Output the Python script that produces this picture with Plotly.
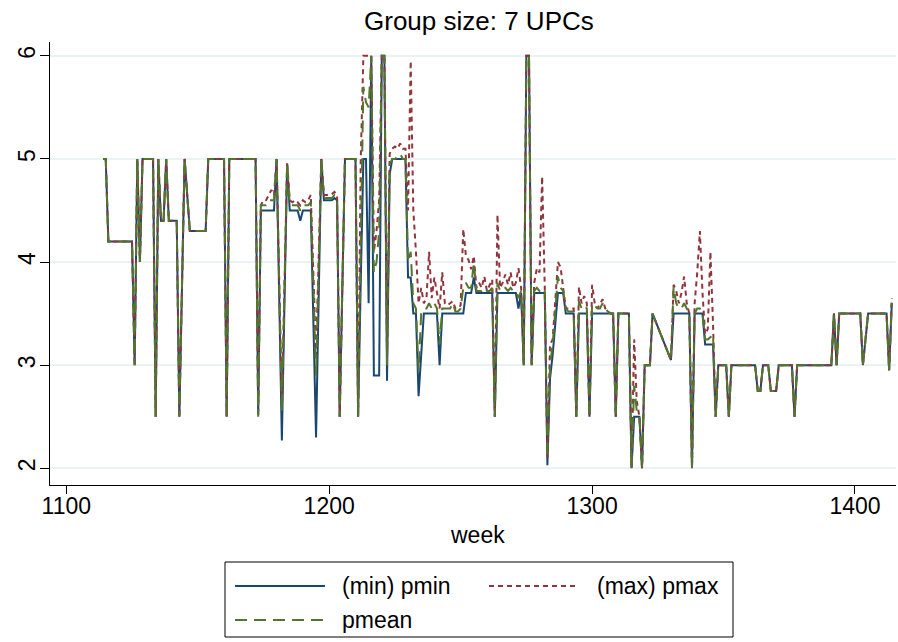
import plotly.graph_objects as go

# ---- data ----
weeks = [1114, 1115, 1116, 1125, 1126, 1127, 1128, 1129, 1133, 1134, 1135, 1136, 1137, 1138, 1139, 1142, 1143, 1145, 1147, 1153,
         1154, 1160, 1161, 1162, 1172, 1173, 1174, 1175, 1176, 1177, 1178, 1179, 1180, 1182, 1184, 1185, 1186, 1187, 1188, 1189,
         1190, 1191, 1192, 1193, 1195, 1197, 1198, 1199, 1200, 1201, 1202, 1203, 1204, 1206, 1210, 1211, 1212, 1213, 1214, 1215,
         1216, 1217, 1218, 1219, 1220, 1221, 1222, 1223, 1224, 1225, 1226, 1227, 1228, 1229, 1230, 1231, 1232, 1233, 1234, 1235,
         1236, 1237, 1238, 1239, 1240, 1241, 1242, 1243, 1244, 1245, 1246, 1247, 1248, 1249, 1250, 1251, 1252, 1253, 1254, 1255,
         1256, 1257, 1258, 1259, 1260, 1261, 1262, 1263, 1264, 1265, 1266, 1267, 1268, 1269, 1270, 1271, 1272, 1273, 1274, 1275,
         1276, 1277, 1278, 1279, 1280, 1281, 1282, 1283, 1284, 1285, 1286, 1287, 1288, 1289, 1290, 1291, 1292, 1293, 1294, 1295,
         1296, 1297, 1298, 1299, 1300, 1301, 1302, 1303, 1304, 1305, 1306, 1307, 1308, 1309, 1310, 1314, 1315, 1316, 1317, 1318,
         1319, 1320, 1322, 1323, 1330, 1331, 1332, 1333, 1334, 1335, 1336, 1337, 1338, 1339, 1340, 1341, 1342, 1343, 1344, 1345,
         1346, 1347, 1348, 1351, 1352, 1353, 1362, 1363, 1364, 1365, 1367, 1368, 1370, 1371, 1376, 1377, 1378, 1390, 1391, 1392,
         1393, 1394, 1402, 1403, 1405, 1412, 1413, 1414]

pmin = [5.0, 5.0, 4.2, 4.2, 3.0, 5.0, 4.0, 5.0, 5.0, 2.5, 5.0, 4.4, 4.4, 5.0, 4.4, 4.4, 2.5, 5.0, 4.3, 4.3,
        5.0, 5.0, 2.5, 5.0, 5.0, 2.52, 4.5, 4.5, 4.5, 4.5, 4.5, 4.5, 5.0, 2.27, 4.95, 4.5, 4.5, 4.5, 4.5, 4.4,
        4.5, 4.5, 4.5, 4.5, 2.3, 5.0, 4.6, 4.6, 4.6, 4.6, 4.62, 4.6, 2.5, 5.0, 5.0, 2.5, 3.8, 5.0, 5.0, 3.6,
        6.0, 2.9, 2.9, 2.9, 6.0, 6.0, 2.85, 4.85, 5.0, 5.0, 5.0, 5.0, 5.0, 5.0, 3.85, 3.85, 3.5, 3.5, 2.7, 3.1,
        3.5, 3.5, 3.5, 3.5, 3.5, 3.5, 3.0, 3.5, 3.5, 3.5, 3.5, 3.5, 3.5, 3.5, 3.5, 3.5, 3.7, 3.7, 3.7, 3.85,
        3.7, 3.7, 3.7, 3.7, 3.7, 3.7, 3.7, 2.5, 3.7, 3.7, 3.7, 3.7, 3.7, 3.7, 3.7, 3.7, 3.55, 3.7, 3.0, 6.0,
        6.0, 3.0, 3.7, 3.7, 3.7, 3.7, 3.7, 2.03, 2.87, 3.1, 3.45, 3.7, 3.7, 3.7, 3.5, 3.5, 3.5, 3.5, 2.5, 3.5,
        3.5, 3.5, 3.5, 2.5, 3.5, 3.5, 3.5, 3.5, 3.5, 3.5, 3.5, 3.5, 3.5, 2.5, 3.5, 3.5, 2.0, 2.5, 2.5, 2.5,
        2.0, 3.0, 3.0, 3.5, 3.05, 3.5, 3.5, 3.5, 3.5, 3.5, 3.5, 3.5, 2.0, 3.5, 3.5, 3.5, 3.5, 3.2, 3.2, 3.2,
        3.2, 2.5, 3.0, 3.0, 2.5, 3.0, 3.0, 2.75, 2.75, 3.0, 3.0, 2.75, 2.75, 3.0, 3.0, 2.5, 3.0, 3.0, 3.0, 3.5,
        3.0, 3.5, 3.5, 3.0, 3.5, 3.5, 2.95, 3.6]

pmax = [5.0, 5.0, 4.2, 4.2, 3.0, 5.0, 4.0, 5.0, 5.0, 2.5, 5.0, 4.4, 4.4, 5.0, 4.4, 4.4, 2.5, 5.0, 4.3, 4.3,
        5.0, 5.0, 2.5, 5.0, 5.0, 2.55, 4.55, 4.6, 4.6, 4.65, 4.7, 4.65, 5.0, 2.6, 4.97, 4.6, 4.58, 4.6, 4.58, 4.55,
        4.6, 4.58, 4.6, 4.65, 3.1, 5.0, 4.65, 4.65, 4.65, 4.66, 4.68, 4.65, 2.5, 5.0, 5.0, 2.5, 5.0, 6.0, 6.0, 6.0,
        6.0, 4.1, 4.3, 4.6, 6.0, 6.0, 3.1, 5.05, 5.1, 5.12, 5.1, 5.15, 5.1, 5.1, 4.5, 5.95, 4.5, 4.1, 3.6, 3.75,
        3.6, 3.65, 4.1, 3.65, 3.85, 3.7, 3.55, 3.9, 3.6, 3.58, 3.6, 3.62, 3.55, 3.55, 3.58, 4.32, 4.06, 4.02, 3.93, 4.06,
        3.75, 3.8, 3.75, 3.86, 3.72, 3.78, 3.83, 2.5, 4.46, 3.75, 3.8, 3.88, 3.78, 3.9, 3.75, 3.8, 3.94, 3.75, 3.0, 6.0,
        6.0, 3.0, 3.8, 3.94, 3.9, 4.83, 3.75, 2.1, 3.2, 3.25, 3.63, 4.0, 3.95, 3.75, 3.55, 3.55, 3.55, 3.55, 2.5, 3.76,
        3.6, 3.67, 3.6, 2.5, 3.78, 3.6, 3.55, 3.6, 3.64, 3.55, 3.52, 3.5, 3.5, 2.5, 3.5, 3.5, 2.0, 3.25, 2.65, 2.5,
        2.0, 3.0, 3.0, 3.5, 3.05, 3.78, 3.72, 3.6, 3.7, 3.86, 3.6, 3.5, 2.0, 3.6, 3.9, 4.3, 3.7, 3.3, 3.35, 4.1,
        3.4, 2.5, 3.0, 3.0, 2.5, 3.0, 3.0, 2.75, 2.75, 3.0, 3.0, 2.75, 2.75, 3.0, 3.0, 2.5, 3.0, 3.0, 3.0, 3.5,
        3.0, 3.5, 3.5, 3.0, 3.5, 3.5, 2.95, 3.65]

pmean = [5.0, 5.0, 4.2, 4.2, 3.0, 5.0, 4.0, 5.0, 5.0, 2.5, 5.0, 4.4, 4.4, 5.0, 4.4, 4.4, 2.5, 5.0, 4.3, 4.3,
         5.0, 5.0, 2.5, 5.0, 5.0, 2.5, 4.55, 4.55, 4.55, 4.6, 4.6, 4.6, 5.0, 2.55, 4.95, 4.55, 4.55, 4.55, 4.55, 4.5,
         4.55, 4.55, 4.55, 4.58, 2.9, 5.0, 4.62, 4.62, 4.62, 4.62, 4.65, 4.62, 2.5, 5.0, 5.0, 2.5, 4.2, 5.7, 5.55, 5.5,
         6.0, 3.9, 4.0, 4.3, 6.0, 6.0, 3.0, 4.95, 5.0, 5.0, 5.02, 5.05, 5.0, 5.0, 4.0, 4.1, 3.6, 3.55, 2.95, 3.5,
         3.55, 3.55, 3.6, 3.55, 3.6, 3.55, 3.2, 3.55, 3.55, 3.55, 3.55, 3.6, 3.52, 3.52, 3.55, 3.75, 3.8, 3.75, 3.75, 4.0,
         3.72, 3.72, 3.72, 3.75, 3.72, 3.72, 3.75, 2.5, 3.8, 3.72, 3.75, 3.75, 3.72, 3.75, 3.72, 3.72, 3.65, 3.72, 3.0, 6.0,
         6.0, 3.0, 3.72, 3.75, 3.72, 3.75, 3.72, 2.1, 3.0, 3.2, 3.5, 3.86, 3.75, 3.72, 3.55, 3.52, 3.52, 3.52, 2.5, 3.62,
         3.55, 3.58, 3.55, 2.5, 3.6, 3.58, 3.55, 3.55, 3.6, 3.55, 3.52, 3.5, 3.5, 2.5, 3.5, 3.5, 2.0, 2.8, 2.55, 2.5,
         2.0, 3.0, 3.0, 3.5, 3.05, 3.76, 3.6, 3.55, 3.55, 3.6, 3.55, 3.5, 2.0, 3.5, 3.55, 3.55, 3.5, 3.25, 3.25, 3.27,
         3.3, 2.5, 3.0, 3.0, 2.5, 3.0, 3.0, 2.75, 2.75, 3.0, 3.0, 2.75, 2.75, 3.0, 3.0, 2.5, 3.0, 3.0, 3.0, 3.5,
         3.0, 3.5, 3.5, 3.0, 3.5, 3.5, 2.95, 3.6]

y_ticks = [2, 3, 4, 5, 6]
x_ticks = [1100, 1200, 1300, 1400]
title_text = "Group size: 7 UPCs"
x_title = "week"
legend_labels = ["(min) pmin", "(max) pmax", "pmean"]

# ---- styles ----
NAVY = "#1a476f"
MAROON = "#90353b"
GREEN = "#55752f"
FONT = "Liberation Sans, Arial, sans-serif"

fig = go.Figure()
fig.add_trace(go.Scatter(x=weeks, y=pmin, mode="lines", name=legend_labels[0],
                         line=dict(color=NAVY, width=2)))
fig.add_trace(go.Scatter(x=weeks, y=pmax, mode="lines", name=legend_labels[1],
                         line=dict(color=MAROON, width=2, dash="5px,4px")))
fig.add_trace(go.Scatter(x=weeks, y=pmean, mode="lines", name=legend_labels[2],
                         line=dict(color=GREEN, width=2, dash="12px,7px")))

L, R, T, B = 50, 2, 42, 157
W, H = 898, 642
pw, ph = W - L - R, H - T - B

def px(xp):
    return (xp - L) / pw

def py(yp):
    return (H - B - yp) / ph

# custom legend (box, line samples, labels)
shapes = [dict(type="rect", xref="paper", yref="paper", x0=px(225), x1=px(733), y0=py(637), y1=py(562),
               line=dict(color="black", width=1), fillcolor="white", layer="above")]
samples = [(235, 325, 586, NAVY, "solid"), (489, 578, 586, MAROON, "5px,4px"), (235, 325, 620, GREEN, "12px,7px")]
for x0, x1, yy, c, d in samples:
    shapes.append(dict(type="line", xref="paper", yref="paper", x0=px(x0), x1=px(x1), y0=py(yy), y1=py(yy),
                       line=dict(color=c, width=2, dash=d), layer="above"))
annotations = []
for (tx, ty), lab in zip([(340, 586), (595, 586), (340, 620)], legend_labels):
    annotations.append(dict(x=px(tx), y=py(ty), xref="paper", yref="paper", text=lab, showarrow=False,
                            xanchor="left", yanchor="middle", font=dict(family=FONT, size=23, color="black")))
annotations.append(dict(x=px(479), y=py(21), xref="paper", yref="paper", text=title_text, showarrow=False,
                        xanchor="center", yanchor="middle", font=dict(family=FONT, size=26, color="black")))
annotations.append(dict(x=px(478), y=py(535), xref="paper", yref="paper", text=x_title, showarrow=False,
                        xanchor="center", yanchor="middle", font=dict(family=FONT, size=23, color="black")))

fig.update_layout(
    width=W, height=H, margin=dict(l=L, r=R, t=T, b=B),
    paper_bgcolor="white", plot_bgcolor="white",
    showlegend=False,
    shapes=shapes, annotations=annotations,
    font=dict(family=FONT, color="black"),
)
fig.update_xaxes(range=[1093.8, 1415.6], tickvals=x_ticks, ticks="outside", ticklen=8, tickcolor="black",
                 showline=True, linecolor="black", linewidth=1, showgrid=False, zeroline=False,
                 tickfont=dict(size=23), ticklabelstandoff=-8)
fig.update_yaxes(range=[1.838, 6.134], tickvals=y_ticks, ticks="outside", ticklen=9, tickcolor="black",
                 showline=True, linecolor="black", linewidth=1, showgrid=True, gridcolor="#eaf2f3", gridwidth=1.5,
                 zeroline=False, tickangle=-90, tickfont=dict(size=23), ticklabelstandoff=-4)

fig.write_html("out.html")
